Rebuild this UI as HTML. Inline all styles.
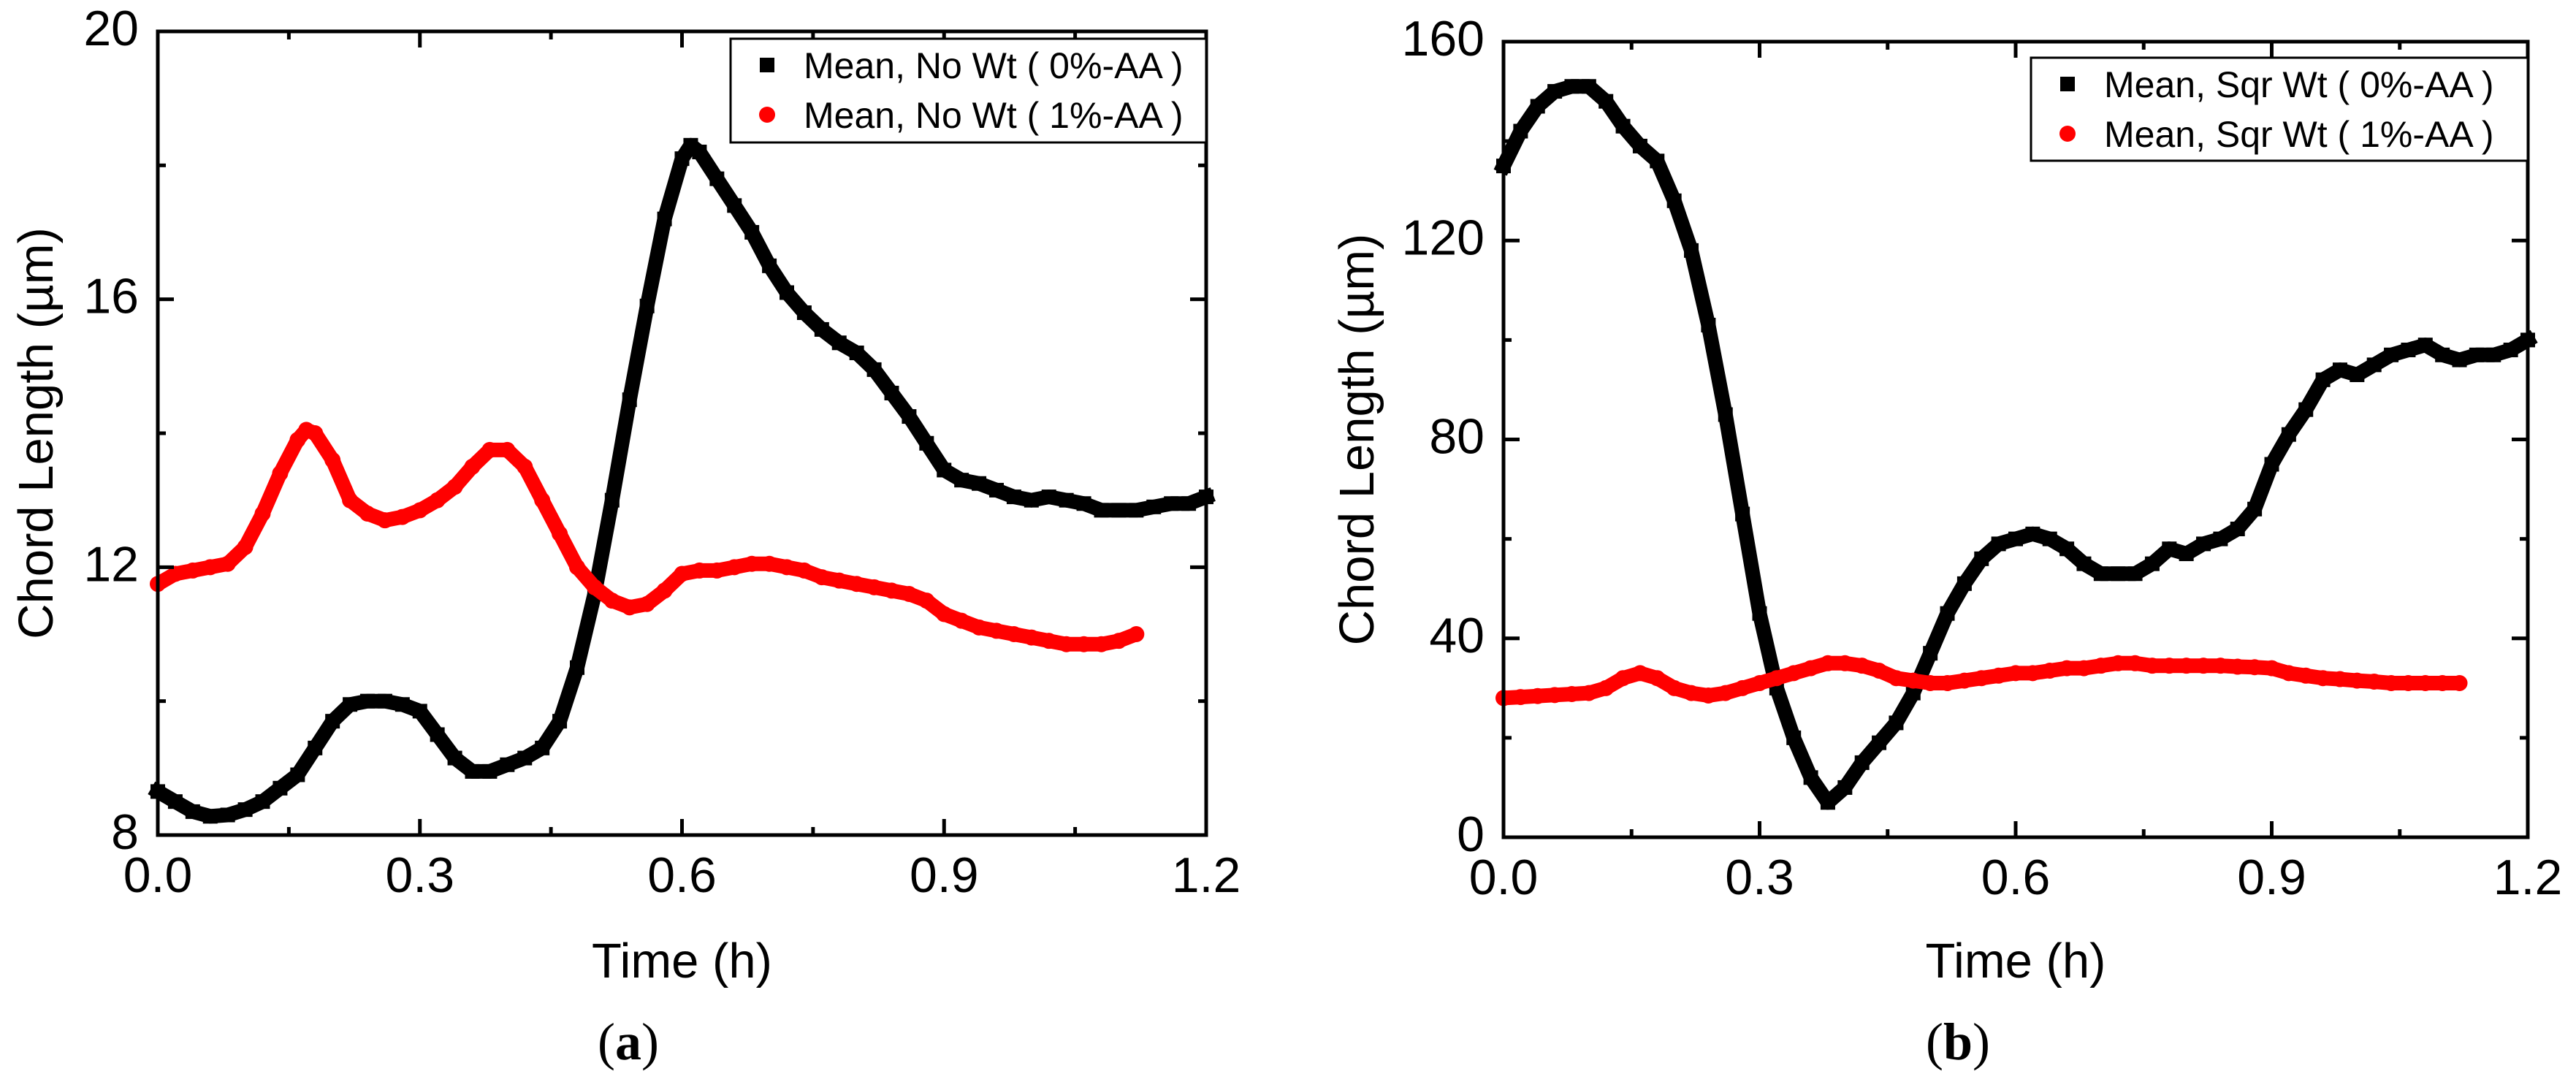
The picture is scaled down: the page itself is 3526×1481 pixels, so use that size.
<!DOCTYPE html>
<html><head><meta charset="utf-8"><style>
html,body{margin:0;padding:0;background:#fff;}
svg{display:block;font-family:"Liberation Sans",Arial,sans-serif;}
</style></head><body>
<svg id="fig" width="3526" height="1481" viewBox="0 0 3526 1481" xmlns="http://www.w3.org/2000/svg"></svg>
<script>
const timeA0=[0,0.02,0.04,0.06,0.08,0.10,0.12,0.14,0.16,0.18,0.20,0.22,0.24,0.26,0.28,0.30,0.32,0.34,0.36,0.38,0.40,0.42,0.44,0.46,0.48,0.50,0.52,0.54,0.56,0.58,0.60,0.61,0.62,0.64,0.66,0.68,0.70,0.72,0.74,0.76,0.78,0.80,0.82,0.84,0.86,0.88,0.90,0.92,0.94,0.96,0.98,1.00,1.02,1.04,1.06,1.08,1.10,1.12,1.14,1.16,1.18,1.20];
const noWt0=[8.65,8.5,8.35,8.28,8.3,8.38,8.5,8.7,8.9,9.3,9.7,9.95,10.0,10.0,9.95,9.85,9.5,9.15,8.95,8.95,9.05,9.15,9.3,9.7,10.5,11.6,13.0,14.5,15.9,17.2,18.1,18.3,18.2,17.8,17.4,17.0,16.5,16.1,15.8,15.55,15.35,15.2,14.95,14.6,14.25,13.85,13.45,13.3,13.25,13.15,13.05,13.0,13.05,13.0,12.95,12.85,12.85,12.85,12.9,12.95,12.95,13.05];
const timeA1=[0,0.02,0.04,0.06,0.08,0.10,0.12,0.14,0.16,0.17,0.18,0.20,0.22,0.24,0.26,0.28,0.30,0.32,0.34,0.36,0.38,0.40,0.42,0.44,0.46,0.48,0.50,0.52,0.54,0.56,0.58,0.60,0.62,0.64,0.66,0.68,0.70,0.72,0.74,0.76,0.78,0.80,0.82,0.84,0.86,0.88,0.90,0.92,0.94,0.96,0.98,1.00,1.02,1.04,1.06,1.08,1.10,1.12];
const noWt1=[11.75,11.9,11.95,12.0,12.05,12.3,12.8,13.4,13.9,14.05,14.0,13.6,13.0,12.8,12.7,12.75,12.85,13.0,13.2,13.5,13.75,13.75,13.5,13.0,12.5,12.0,11.7,11.5,11.4,11.45,11.65,11.9,11.95,11.95,12.0,12.05,12.05,12.0,11.95,11.85,11.8,11.75,11.7,11.65,11.6,11.5,11.3,11.2,11.1,11.05,11.0,10.95,10.9,10.85,10.85,10.85,10.9,11.0];
const timeB0=[0,0.02,0.04,0.06,0.08,0.10,0.12,0.14,0.16,0.18,0.20,0.22,0.24,0.26,0.28,0.30,0.32,0.34,0.36,0.38,0.40,0.42,0.44,0.46,0.48,0.50,0.52,0.54,0.56,0.58,0.60,0.62,0.64,0.66,0.68,0.70,0.72,0.74,0.76,0.78,0.80,0.82,0.84,0.86,0.88,0.90,0.92,0.94,0.96,0.98,1.00,1.02,1.04,1.06,1.08,1.10,1.12,1.14,1.16,1.18,1.20];
const sqrWt0=[135,142,147,150,151,151,148,143,139,136,128,118,103,85,65,45,30,20,12,7,10,15,19,23,29,37,45,51,56,59,60,61,60,58,55,53,53,53,55,58,57,59,60,62,66,75,81,86,92,94,93,95,97,98,99,97,96,97,97,98,100];
const timeB1=[0,0.02,0.04,0.06,0.08,0.10,0.12,0.14,0.16,0.18,0.20,0.22,0.24,0.26,0.28,0.30,0.32,0.34,0.36,0.38,0.40,0.42,0.44,0.46,0.48,0.50,0.52,0.54,0.56,0.58,0.60,0.62,0.64,0.66,0.68,0.70,0.72,0.74,0.76,0.78,0.80,0.82,0.84,0.86,0.88,0.90,0.92,0.94,0.96,0.98,1.00,1.02,1.04,1.06,1.08,1.10,1.12];
const sqrWt1=[28,28.2,28.4,28.6,28.8,29,30,32,33,32,30,29,28.5,29,30,31,32,33,34,35,35,34.5,33.5,32,31.5,31,31,31.5,32,32.5,33,33,33.5,34,34,34.5,35,35,34.5,34.5,34.5,34.5,34.5,34.3,34.2,34,33,32.5,32,31.8,31.5,31.3,31,31,31,31,31];
const xTicks=[0,0.3,0.6,0.9,1.2];
const xTickLabels=["0.0","0.3","0.6","0.9","1.2"];
const yTicksA=[8,12,16,20];
const yTicksB=[0,40,80,120,160];

const NS="http://www.w3.org/2000/svg";
const svg=document.getElementById('fig');
function el(tag,attrs,parent){const e=document.createElementNS(NS,tag);for(const k in attrs)e.setAttribute(k,attrs[k]);(parent||svg).appendChild(e);return e;}

function panel(cfg){
  const g=el('g',{});
  
  
  const L=cfg.L,R=cfg.R,T=cfg.T,B=cfg.B;
  const xs=v=>L+(v-0)/(1.2-0)*(R-L);
  const ys=v=>B-(v-cfg.ymin)/(cfg.ymax-cfg.ymin)*(B-T);
  // series
  cfg.series.forEach(s=>{
    const sg=el('g',{},g);
    
    
    const pts=s.x.map((t,i)=>xs(t).toFixed(1)+','+ys(s.y[i]).toFixed(1)).join(' ');
    const pl=el('polyline',{points:pts,fill:'none',stroke:s.color,'stroke-width':20,'stroke-linejoin':'round','stroke-linecap':s.square?'square':'round'},sg);
    
    
    s.x.forEach((t,i)=>{
      let m;
      if(s.square) m=el('rect',{x:xs(t)-10,y:ys(s.y[i])-10,width:20,height:20,fill:s.color},sg);
      else m=el('circle',{cx:xs(t),cy:ys(s.y[i]),r:11,fill:s.color},sg);
      
      
    });
  });
  // frame
  const fr=el('rect',{x:L,y:T,width:R-L,height:B-T,fill:'none',stroke:'#000','stroke-width':5},g);
  
  
  // x ticks
  for(let i=0;i<xTicks.length;i++){
    const x=xs(xTicks[i]);
    el('line',{x1:x,y1:B,x2:x,y2:B-22,stroke:'#000','stroke-width':5},g);
    el('line',{x1:x,y1:T,x2:x,y2:T+22,stroke:'#000','stroke-width':5},g);
    if(i<xTicks.length-1){const xm=xs(xTicks[i]+0.15);
      el('line',{x1:xm,y1:B,x2:xm,y2:B-11,stroke:'#000','stroke-width':5},g);
      el('line',{x1:xm,y1:T,x2:xm,y2:T+11,stroke:'#000','stroke-width':5},g);}
    const tl=el('text',{x:x,y:B+78,'font-size':68,'text-anchor':'middle',fill:'#000'},g);
    tl.textContent=xTickLabels[i];
    
    
  }
  // y ticks
  const yt=cfg.yticks;
  for(let i=0;i<yt.length;i++){
    const y=ys(yt[i]);
    el('line',{x1:L,y1:y,x2:L+22,y2:y,stroke:'#000','stroke-width':5},g);
    el('line',{x1:R,y1:y,x2:R-22,y2:y,stroke:'#000','stroke-width':5},g);
    if(i<yt.length-1){const ym=ys((yt[i]+yt[i+1])/2);
      el('line',{x1:L,y1:ym,x2:L+11,y2:ym,stroke:'#000','stroke-width':5},g);
      el('line',{x1:R,y1:ym,x2:R-11,y2:ym,stroke:'#000','stroke-width':5},g);}
    const tl=el('text',{x:L-26,y:y+19,'font-size':68,'text-anchor':'end',fill:'#000'},g);
    tl.textContent=String(yt[i]);
    
    
  }
  // axis titles
  const xt=el('text',{x:(L+R)/2,y:1338,'font-size':67,'text-anchor':'middle',fill:'#000'},g);
  xt.textContent='Time (h)';
  
  
  const cy=(T+B)/2;
  const ytt=el('text',{x:cfg.ylabX,y:cy,'font-size':67,'text-anchor':'middle',fill:'#000',transform:'rotate(-90 '+cfg.ylabX+' '+cy+')'},g);
  ytt.textContent='Chord Length (\u00B5m)';
  
  
  // legend
  const lg=el('g',{},g);
  
  
  el('rect',{x:cfg.legL,y:cfg.legT,width:R-cfg.legL,height:cfg.legH,fill:'#fff',stroke:'#000','stroke-width':3},lg);
  cfg.series.forEach((s,i)=>{
    const ry=cfg.legT+36+i*68;
    const sx=cfg.legL+50;
    if(s.square) el('rect',{x:sx-10,y:ry-10,width:20,height:20,fill:s.color},lg);
    else el('circle',{cx:sx,cy:ry,r:11,fill:s.color},lg);
    const t=el('text',{x:cfg.legL+100,y:ry+18,'font-size':50,fill:'#000'},lg);
    t.textContent=s.label;
    
    
  });
  // caption
  const cap=el('text',{x:cfg.capX,y:1450,'font-size':72,'text-anchor':'middle',fill:'#000','font-family':'"Liberation Serif",serif'},g);
  cap.innerHTML='(<tspan font-weight="bold">'+cfg.cap+'</tspan>)';
  
  
}

panel({name:'panel-a',L:216,R:1651,T:43,B:1143,ymin:8,ymax:20,yticks:yTicksA,ylabX:72,
  legL:1000,legT:53,legH:142,capX:860,cap:'a',
  series:[
    {name:'series-no-wt-0aa',x:timeA0,y:noWt0,color:'#000',square:true,label:'Mean, No Wt ( 0%-AA )'},
    {name:'series-no-wt-1aa',x:timeA1,y:noWt1,color:'#f00',square:false,label:'Mean, No Wt ( 1%-AA )'}
  ]});
panel({name:'panel-b',L:2058,R:3460,T:57,B:1146,ymin:0,ymax:160,yticks:yTicksB,ylabX:1880,
  legL:2780,legT:79,legH:141,capX:2680,cap:'b',
  series:[
    {name:'series-sqr-wt-0aa',x:timeB0,y:sqrWt0,color:'#000',square:true,label:'Mean, Sqr Wt ( 0%-AA )'},
    {name:'series-sqr-wt-1aa',x:timeB1,y:sqrWt1,color:'#f00',square:false,label:'Mean, Sqr Wt ( 1%-AA )'}
  ]});
</script>
</body></html>
